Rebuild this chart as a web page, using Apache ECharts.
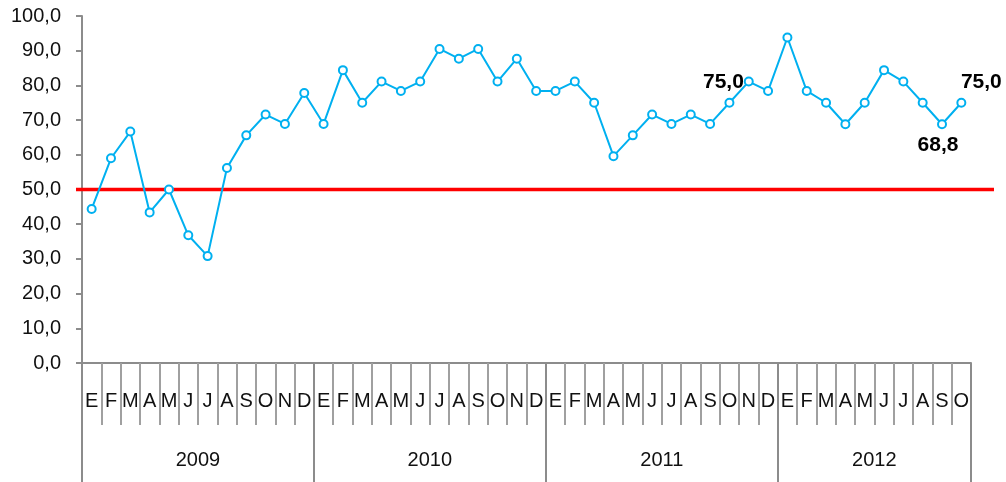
<!DOCTYPE html>
<html>
<head>
<meta charset="utf-8">
<script src="https://cdn.jsdelivr.net/npm/echarts@6/dist/echarts.min.js"></script>
<style>
	html, body { margin: 0; padding: 0; background: #fff; }
	#chart { width: 1006px; height: 482px; }
</style>
</head>
<body>
<div id="chart"></div>
<script>
// datos
var meses = ['E', 'F', 'M', 'A', 'M', 'J', 'J', 'A', 'S', 'O', 'N', 'D'];
var anios = ['2009', '2010', '2011', '2012'];
var mesesPorAnio = [12, 12, 12, 10];
var valores = [
	44.4, 59.0, 66.7, 43.4, 50.0, 36.8, 30.8, 56.2, 65.6, 71.6, 68.9, 77.8,
	68.9, 84.4, 75.0, 81.1, 78.4, 81.1, 90.5, 87.7, 90.5, 81.1, 87.7, 78.4,
	78.4, 81.1, 75.0, 59.6, 65.6, 71.6, 68.9, 71.6, 68.9, 75.0, 81.1, 78.4,
	93.8, 78.4, 75.0, 68.8, 75.0, 84.4, 81.1, 75.0, 68.8, 75.0
];
var umbral = 50;
var yTicks = [0, 10, 20, 30, 40, 50, 60, 70, 80, 90, 100];
var etiquetados = [33, 44, 45];

var fmt = function(v) {
	return Number(v).toFixed(1).replace('.', ',');
};

// eje de meses
var categorias = [];
for (var a = 0; a < anios.length; a++) {
	for (var m = 0; m < mesesPorAnio[a]; m++) {
		categorias.push(meses[m]);
	}
}

// eje de anios: puntos en los limites (n+1), etiqueta en el centro de cada anio
var limites = [0];
var ejeAnios = [];
for (var i = 0; i <= categorias.length; i++) ejeAnios.push('');
var acum = 0;
for (var a = 0; a < anios.length; a++) {
	var centro = acum + mesesPorAnio[a] / 2;
	ejeAnios[Math.round(centro)] = anios[a];
	acum += mesesPorAnio[a];
	limites.push(acum);
}

var estilosEtiqueta = {
	33: { position: 'top', offset: [-6, 0] },
	44: { position: 'bottom', offset: [-4, 0] },
	45: { position: 'top', offset: [20, 0] }
};

var datos = valores.map(function(v, i) {
	var item = { value: v };
	if (etiquetados.indexOf(i) >= 0) {
		var e = estilosEtiqueta[i];
		item.label = {
			show: true,
			position: e.position,
			offset: e.offset,
			formatter: function(p) { return fmt(p.value); },
			fontFamily: 'Liberation Sans, Arial, sans-serif',
			fontWeight: 'bold',
			fontSize: 21,
			color: '#000'
		};
	}
	return item;
});

var gris = '#8c8c8c';
var fuente = 'Liberation Sans, Arial, sans-serif';

var myChart = echarts.init(document.getElementById('chart'));
myChart.setOption({
	animation: false,
	grid: [
		{ left: 82, right: 35, top: 16, bottom: 119 },
		{ left: 76, right: 12, top: 16, bottom: 119 }
	],
	xAxis: [{
		type: 'category',
		gridIndex: 0,
		data: categorias,
		boundaryGap: true,
		axisLine: { lineStyle: { color: gris, width: 2 } },
		axisTick: { show: true, interval: 0, length: 62, lineStyle: { color: '#a0a0a0', width: 2 } },
		axisLabel: { interval: 0, margin: 28, fontSize: 20, fontFamily: fuente, color: '#111' },
		splitLine: { show: false }
	}, {
		type: 'category',
		gridIndex: 0,
		position: 'bottom',
		data: ejeAnios,
		boundaryGap: false,
		axisLine: { show: false },
		axisTick: {
			show: true,
			length: 119,
			interval: function(idx) { return limites.indexOf(idx) >= 0; },
			lineStyle: { color: gris, width: 2 }
		},
		axisLabel: { interval: 0, margin: 87, fontSize: 20, fontFamily: fuente, color: '#111' },
		splitLine: { show: false }
	}, {
		type: 'value',
		gridIndex: 1,
		min: 0,
		max: 1,
		show: false
	}],
	yAxis: [{
		type: 'value',
		gridIndex: 0,
		min: yTicks[0],
		max: yTicks[yTicks.length - 1],
		interval: yTicks[1] - yTicks[0],
		axisLine: { show: true, lineStyle: { color: gris, width: 2 } },
		axisTick: { show: true, length: 6, lineStyle: { color: gris, width: 2 } },
		axisLabel: { margin: 21, fontSize: 20, fontFamily: fuente, color: '#111', formatter: fmt },
		splitLine: { show: false }
	}, {
		type: 'value',
		gridIndex: 1,
		min: yTicks[0],
		max: yTicks[yTicks.length - 1],
		show: false
	}],
	series: [{
		type: 'line',
		xAxisIndex: 2,
		yAxisIndex: 1,
		data: [[0, umbral], [1, umbral]],
		symbol: 'none',
		lineStyle: { color: '#ff0000', width: 3.5 },
		z: 1,
		silent: true
	}, {
		type: 'line',
		xAxisIndex: 0,
		yAxisIndex: 0,
		data: datos,
		symbol: 'circle',
		symbolSize: 8,
		itemStyle: { color: '#ffffff', borderColor: '#00b0f0', borderWidth: 2 },
		lineStyle: { color: '#00b0f0', width: 2 },
		z: 3
	}]
});
</script>
</body>
</html>
